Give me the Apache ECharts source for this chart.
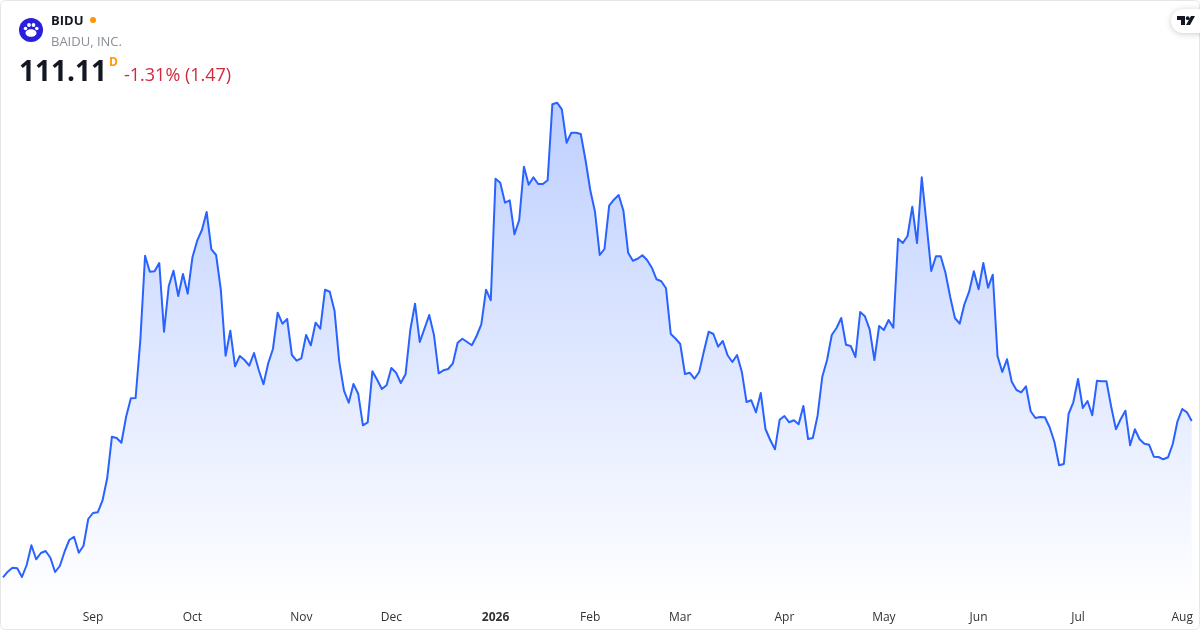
<!DOCTYPE html>
<html>
<head>
<meta charset="utf-8">
<style>html,body{margin:0;padding:0;background:#fff}#c{width:1200px;height:630px}</style>
<script src="https://cdn.jsdelivr.net/npm/echarts@6/dist/echarts.min.js"></script>
</head>
<body>
<div id="c"></div>
<script>
const closes = [
84.54,85.49,86.17,86.07,84.59,86.63,89.98,87.60,88.67,89.01,87.87,85.44,86.46,88.89,90.88,91.44,88.72,89.91,94.45,
95.47,95.59,97.56,101.37,108.44,108.22,107.42,111.84,114.97,115.02,124.88,139.21,136.49,136.56,137.97,126.29,134.06,136.66,132.36,136.10,132.75,
138.94,141.76,143.58,146.64,140.30,139.33,133.38,122.21,126.46,120.41,122.16,121.48,120.51,122.67,119.78,117.35,120.92,123.35,129.52,127.65,128.45,122.33,121.36,
121.77,125.73,123.98,127.82,126.80,133.43,133.09,129.86,121.19,116.26,114.22,117.40,115.75,110.38,110.89,119.56,118.13,116.55,117.18,
120.12,119.32,117.57,119.05,126.58,131.05,124.54,126.80,129.13,125.73,119.22,119.73,119.95,120.92,124.42,125.10,124.54,123.98,125.56,127.55,133.43,131.63,
152.30,151.62,148.22,148.63,142.85,145.28,154.34,151.28,152.54,151.40,151.40,152.03,164.95,165.22,164.10,158.42,160.12,160.12,159.90,155.48,
150.38,146.69,139.33,140.35,147.71,148.73,149.53,146.86,139.72,138.36,138.70,139.28,138.48,137.17,135.20,134.86,133.67,125.90,125.13,
124.20,119.10,119.32,118.30,119.44,122.96,126.29,125.90,123.74,124.71,122.28,121.14,122.33,119.49,114.34,114.63,112.59,115.87,109.75,107.88,106.30,111.33,
111.96,110.89,111.23,110.55,113.66,108.05,108.22,112.01,118.64,121.48,125.73,126.92,128.62,124.08,123.86,121.99,129.64,128.91,126.70,121.48,127.26,
126.58,128.28,126.97,142.10,141.37,142.56,147.54,141.37,152.54,144.72,136.61,139.11,139.11,136.32,132.24,128.62,127.65,130.95,133.09,136.56,
133.50,137.97,133.77,135.98,122.16,119.44,121.60,117.79,116.38,115.99,117.01,112.76,111.62,111.79,111.74,110.04,107.59,103.58,103.80,112.30,114.29,
118.25,113.32,114.51,112.08,117.96,117.86,117.86,113.54,109.70,111.40,112.86,106.98,109.70,108.00,107.25,107.08,105.04,104.99,104.60,104.94,107.20,
111.06,113.15,112.58,111.11
];
const tickIndexes = [19,40,63,82,104,124,143,165,186,206,227,249];
const tickLabels = ['Sep','Oct','Nov','Dec','2026','Feb','Mar','Apr','May','Jun','Jul','Aug'];
const categories = closes.map((_, i) => {
  const k = tickIndexes.indexOf(i);
  return k >= 0 ? tickLabels[k] : '';
});
const symbolName = 'BIDU';
const companyName = 'BAIDU, INC.';
const lastPrice = '111.11';
const changeText = '-1.31% (1.47)';
const font = '"Open Sans", sans-serif';

const chart = echarts.init(document.getElementById('c'), null, {renderer: 'canvas'});
chart.setOption({
  animation: false,
  backgroundColor: '#fff',
  grid: {left: 2.7, right: 8.3, top: 0, height: 604, containLabel: false},
  xAxis: {
    type: 'category',
    data: categories,
    boundaryGap: false,
    axisLine: {show: false},
    axisTick: {show: false},
    splitLine: {show: false},
    axisLabel: {
      interval: 0,
      hideOverlap: false,
      margin: 8,
      color: '#333333',
      fontFamily: font,
      fontSize: 12,
      formatter: v => v === '2026' ? '{b|2026}' : v,
      rich: {b: {fontWeight: 700, fontFamily: font, fontSize: 12, color: '#333333'}}
    }
  },
  yAxis: {type: 'value', min: 80, max: 182.68, show: false},
  series: [{
    type: 'line',
    data: closes,
    showSymbol: false,
    symbol: 'none',
    smooth: false,
    lineStyle: {color: '#2962FF', width: 2, join: 'round'},
    areaStyle: {
      opacity: 1,
      color: {type: 'linear', x: 0, y: 0, x2: 0, y2: 1, colorStops: [
        {offset: 0, color: 'rgba(41,98,255,0.3)'},
        {offset: 1, color: 'rgba(41,98,255,0)'}
      ]}
    }
  }],
  graphic: [
    {type: 'rect', silent: true, z: 100, shape: {x: 0.5, y: 0.5, width: 1199, height: 629, r: 5},
      style: {fill: 'none', stroke: '#e6e6e6', lineWidth: 1}},
    {type: 'circle', z: 101, shape: {cx: 31, cy: 30, r: 12}, style: {fill: '#2a1fdc'}},
    {type: 'circle', z: 102, shape: {cx: 25.5, cy: 28.5, r: 1.8}, style: {fill: '#fff'}},
    {type: 'circle', z: 102, shape: {cx: 29, cy: 25, r: 1.9}, style: {fill: '#fff'}},
    {type: 'circle', z: 102, shape: {cx: 33.5, cy: 25, r: 1.9}, style: {fill: '#fff'}},
    {type: 'circle', z: 102, shape: {cx: 36.8, cy: 28.5, r: 1.8}, style: {fill: '#fff'}},
    {type: 'ellipse', z: 102, shape: {cx: 31, cy: 33, rx: 5.5, ry: 3.8}, style: {fill: '#fff'}},
    {type: 'text', z: 101, x: 51, y: 15, style: {text: symbolName, font: '700 13px ' + font, fill: '#131722'}},
    {type: 'circle', z: 101, shape: {cx: 93, cy: 20, r: 3}, style: {fill: '#ff9800'}},
    {type: 'text', z: 101, x: 51, y: 36, style: {text: companyName, font: '400 13px ' + font, fill: '#8a8e97'}},
    {type: 'text', z: 101, x: 19, y: 59, style: {text: lastPrice, font: '700 28px ' + font, fill: '#131722'}},
    {type: 'text', z: 101, x: 109, y: 57, style: {text: 'D', font: '700 12px ' + font, fill: '#ff9800'}},
    {type: 'text', z: 101, x: 124, y: 67, style: {text: changeText, font: '400 18px ' + font, fill: '#d1293d'}},
    {type: 'rect', z: 103, shape: {x: 1171, y: 9, width: 40, height: 24, r: 12},
      style: {fill: '#fff', shadowBlur: 6, shadowColor: 'rgba(0,0,0,0.2)', shadowOffsetY: 1}},
    {type: 'polygon', z: 104, shape: {points: [[1177,16],[1185,16],[1185,25],[1181,25],[1181,20],[1177,20]]}, style: {fill: '#131722'}},
    {type: 'circle', z: 104, shape: {cx: 1187.7, cy: 18.2, r: 1.9}, style: {fill: '#131722'}},
    {type: 'polygon', z: 104, shape: {points: [[1191,16],[1195,16],[1190,25],[1186,25]]}, style: {fill: '#131722'}}
  ]
});
</script>
</body>
</html>
